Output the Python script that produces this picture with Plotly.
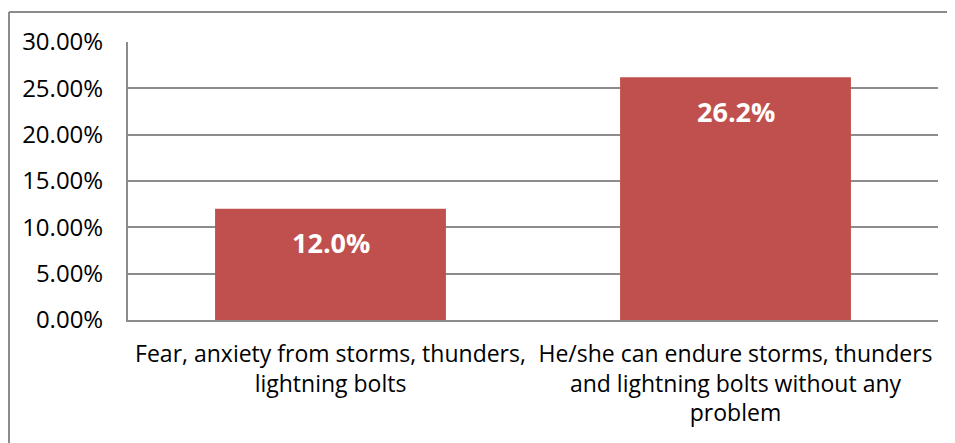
import plotly.graph_objects as go

# ---------------- data ----------------
categories = [
    "Fear, anxiety from storms, thunders,<br>lightning bolts",
    "He/she can endure storms, thunders<br>and lightning bolts without any<br>problem",
]
shares = [0.120, 0.262]
bar_labels = ["12.0%", "26.2%"]
y_ticks = [0, 0.05, 0.10, 0.15, 0.20, 0.25, 0.30]

font_family = "Open Sans"
bar_color = "#C0504D"
grid_color = "#8C8C8C"

fig = go.Figure()
fig.add_trace(go.Bar(x=categories, y=shares, marker=dict(color=bar_color, line=dict(width=0)),
                     hoverinfo="skip"))

# value labels inside the bars, just under the top
for cat, val, lab in zip(categories, shares, bar_labels):
    fig.add_annotation(x=cat, y=val, text="<b>" + lab + "</b>", showarrow=False,
                       yanchor="middle", yshift=-34,
                       font=dict(family=font_family, size=27, color="white"))

# outer chart border (only left and top visible in the reference)
# page body has an 8px margin, so the figure is a little smaller than the window
W, H = 947, 435
L, R, T, B = 120, 17, 34, 123
pw, ph = W - L - R, H - T - B
bx = (1 - L) / pw
by = 1 + (T - 4) / ph
fig.add_shape(type="line", xref="paper", yref="paper", x0=bx, x1=bx, y0=by, y1=-1,
              line=dict(color=grid_color, width=2))
fig.add_shape(type="line", xref="paper", yref="paper", x0=bx, x1=1.2, y0=by, y1=by,
              line=dict(color=grid_color, width=2))

fig.update_layout(
    width=W, height=H,
    margin=dict(l=L, r=R, t=T, b=B),
    paper_bgcolor="white", plot_bgcolor="white",
    showlegend=False,
    bargap=0.43,
    font=dict(family=font_family, size=23, color="black"),
    xaxis=dict(showgrid=False, showline=True, linecolor=grid_color, linewidth=2,
               ticks="", tickfont=dict(size=23), tickangle=0, fixedrange=True,
               ticklabelstandoff=12),
    yaxis=dict(range=[0, 0.30], tickvals=y_ticks, tickformat=".2%", showgrid=True,
               gridcolor=grid_color, gridwidth=1.5, showline=True, linecolor=grid_color,
               linewidth=2, ticks="", tickfont=dict(size=24), zeroline=False,
               ticklabelstandoff=18),
)

fig.write_html("out.html")
